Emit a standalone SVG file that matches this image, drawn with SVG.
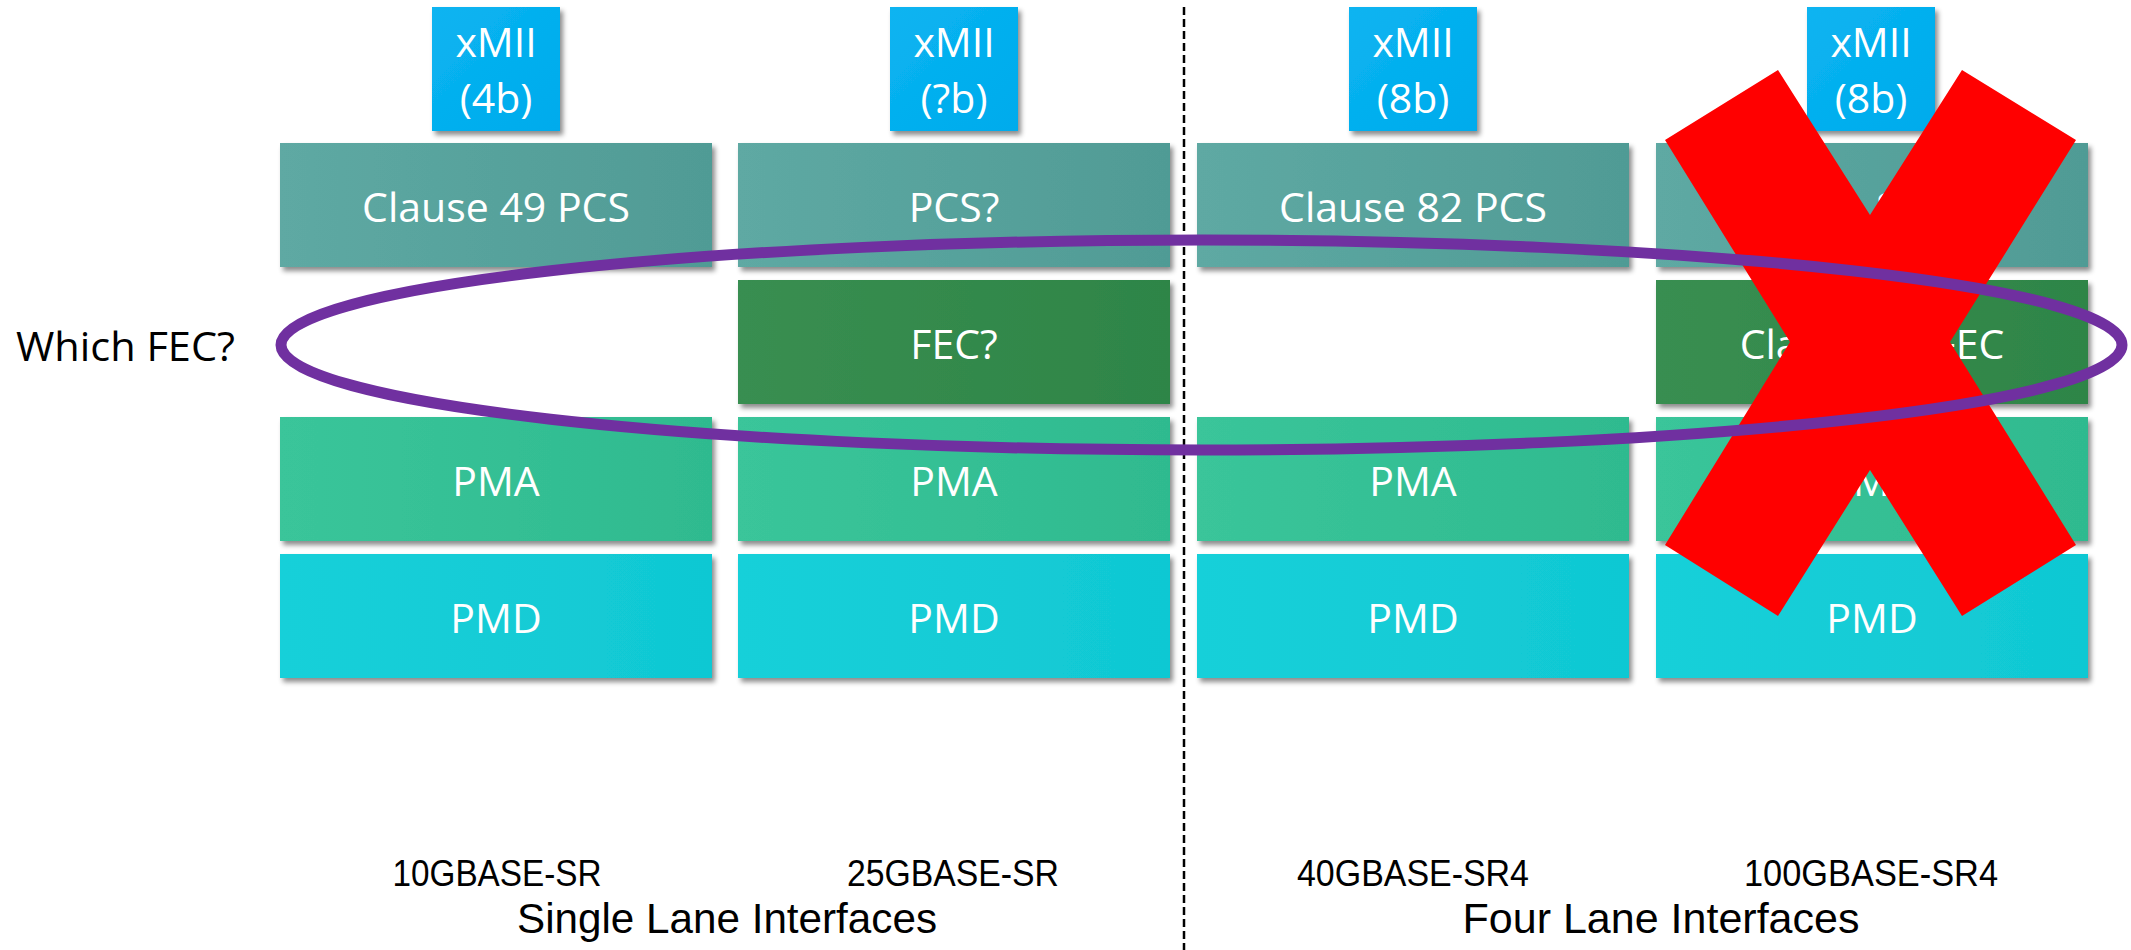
<svg xmlns="http://www.w3.org/2000/svg" width="2131" height="950" viewBox="0 0 2131 950">
  <style>
    .lbl { font-family: "Open Sans", "Liberation Sans", sans-serif; font-size: 41px; fill: #FFFFFF; text-anchor: middle; }
    .blk { font-family: "Liberation Sans", "Open Sans", sans-serif; fill: #000000; }
    .sub { font-size: 37px; text-anchor: middle; }
    .grp { font-size: 42px; text-anchor: middle; }
    .box { filter: url(#sh); }
  </style>
  <defs>
    <filter id="sh" x="-5%" y="-10%" width="112%" height="130%">
      <feDropShadow dx="3" dy="4" stdDeviation="2.5" flood-color="#000000" flood-opacity="0.45"/>
    </filter>
    <linearGradient id="gX" x1="0" y1="0" x2="1" y2="1">
      <stop offset="0" stop-color="#0AB4F1"/>
      <stop offset="1" stop-color="#00ABEC"/>
    </linearGradient>
    <linearGradient id="gPCS" x1="0" y1="0" x2="1" y2="0">
      <stop offset="0" stop-color="#5EA9A3"/>
      <stop offset="1" stop-color="#509B95"/>
    </linearGradient>
    <linearGradient id="gFEC" x1="0" y1="0" x2="1" y2="0">
      <stop offset="0" stop-color="#398E51"/>
      <stop offset="1" stop-color="#2E8547"/>
    </linearGradient>
    <linearGradient id="gPMA" x1="0" y1="0" x2="1" y2="0">
      <stop offset="0" stop-color="#3AC59A"/>
      <stop offset="1" stop-color="#2FBA8F"/>
    </linearGradient>
    <linearGradient id="gPMD" x1="0" y1="0" x2="1" y2="0">
      <stop offset="0" stop-color="#18D0D9"/>
      <stop offset="1" stop-color="#10C8D3"/>
    </linearGradient>
  </defs>

  <rect x="0" y="0" width="2131" height="950" fill="#FFFFFF"/>

  <!-- Column 1: 10GBASE-SR -->
  <g id="col1-xmii">
    <rect class="box" x="432" y="7" width="128" height="124" fill="url(#gX)"/>
    <text class="lbl" x="496" y="57">xMII</text>
    <text class="lbl" x="496" y="113">(4b)</text>
  </g>
  <g id="col1-pcs">
    <rect class="box" x="280" y="143" width="432" height="124" fill="url(#gPCS)"/>
    <text class="lbl" x="496" y="222">Clause 49 PCS</text>
  </g>
  <g id="col1-pma">
    <rect class="box" x="280" y="417" width="432" height="124" fill="url(#gPMA)"/>
    <text class="lbl" x="496" y="496">PMA</text>
  </g>
  <g id="col1-pmd">
    <rect class="box" x="280" y="554" width="432" height="124" fill="url(#gPMD)"/>
    <text class="lbl" x="496" y="633">PMD</text>
  </g>

  <!-- Column 2: 25GBASE-SR -->
  <g id="col2-xmii">
    <rect class="box" x="890" y="7" width="128" height="124" fill="url(#gX)"/>
    <text class="lbl" x="954" y="57">xMII</text>
    <text class="lbl" x="954" y="113">(?b)</text>
  </g>
  <g id="col2-pcs">
    <rect class="box" x="738" y="143" width="432" height="124" fill="url(#gPCS)"/>
    <text class="lbl" x="954" y="222">PCS?</text>
  </g>
  <g id="col2-fec">
    <rect class="box" x="738" y="280" width="432" height="124" fill="url(#gFEC)"/>
    <text class="lbl" x="954" y="359">FEC?</text>
  </g>
  <g id="col2-pma">
    <rect class="box" x="738" y="417" width="432" height="124" fill="url(#gPMA)"/>
    <text class="lbl" x="954" y="496">PMA</text>
  </g>
  <g id="col2-pmd">
    <rect class="box" x="738" y="554" width="432" height="124" fill="url(#gPMD)"/>
    <text class="lbl" x="954" y="633">PMD</text>
  </g>

  <!-- Column 3: 40GBASE-SR4 -->
  <g id="col3-xmii">
    <rect class="box" x="1349" y="7" width="128" height="124" fill="url(#gX)"/>
    <text class="lbl" x="1413" y="57">xMII</text>
    <text class="lbl" x="1413" y="113">(8b)</text>
  </g>
  <g id="col3-pcs">
    <rect class="box" x="1197" y="143" width="432" height="124" fill="url(#gPCS)"/>
    <text class="lbl" x="1413" y="222">Clause 82 PCS</text>
  </g>
  <g id="col3-pma">
    <rect class="box" x="1197" y="417" width="432" height="124" fill="url(#gPMA)"/>
    <text class="lbl" x="1413" y="496">PMA</text>
  </g>
  <g id="col3-pmd">
    <rect class="box" x="1197" y="554" width="432" height="124" fill="url(#gPMD)"/>
    <text class="lbl" x="1413" y="633">PMD</text>
  </g>

  <!-- Column 4: 100GBASE-SR4 -->
  <g id="col4-xmii">
    <rect class="box" x="1807" y="7" width="128" height="124" fill="url(#gX)"/>
    <text class="lbl" x="1871" y="57">xMII</text>
    <text class="lbl" x="1871" y="113">(8b)</text>
  </g>
  <g id="col4-pcs">
    <rect class="box" x="1656" y="143" width="432" height="124" fill="url(#gPCS)"/>
    <text class="lbl" x="1872" y="222">Clause 82 PCS</text>
  </g>
  <g id="col4-fec">
    <rect class="box" x="1656" y="280" width="432" height="124" fill="url(#gFEC)"/>
    <text class="lbl" x="1872" y="359">Clause 91 FEC</text>
  </g>
  <g id="col4-pma">
    <rect class="box" x="1656" y="417" width="432" height="124" fill="url(#gPMA)"/>
    <text class="lbl" x="1872" y="496">PMA</text>
  </g>
  <g id="col4-pmd">
    <rect class="box" x="1656" y="554" width="432" height="124" fill="url(#gPMD)"/>
    <text class="lbl" x="1872" y="633">PMD</text>
  </g>

  <!-- Divider -->
  <g id="divider">
    <line x1="1184" y1="7" x2="1184" y2="950" stroke="#000000" stroke-width="2.5" stroke-dasharray="8 4"/>
  </g>

  <!-- Labels -->
  <g id="labels">
    <text x="16" y="361" font-family="Open Sans, Liberation Sans, sans-serif" font-size="41" fill="#000000" textLength="219" lengthAdjust="spacingAndGlyphs">Which FEC?</text>
    <text class="blk sub" x="497" y="886" textLength="209" lengthAdjust="spacingAndGlyphs">10GBASE-SR</text>
    <text class="blk sub" x="953" y="886" textLength="212" lengthAdjust="spacingAndGlyphs">25GBASE-SR</text>
    <text class="blk sub" x="1413" y="886" textLength="232" lengthAdjust="spacingAndGlyphs">40GBASE-SR4</text>
    <text class="blk sub" x="1871" y="886" textLength="254" lengthAdjust="spacingAndGlyphs">100GBASE-SR4</text>
    <text class="blk grp" x="727" y="933" textLength="420" lengthAdjust="spacingAndGlyphs">Single Lane Interfaces</text>
    <text class="blk grp" x="1661" y="933" textLength="397" lengthAdjust="spacingAndGlyphs">Four Lane Interfaces</text>
  </g>

  <!-- Annotations -->
  <g id="connectors">
    <polygon id="red-x" fill="#FF0000" points="1665,140 1778,70 1870,215 1962,70 2076,140 1950,342 2076,545 1962,616 1870,470 1778,616 1665,545 1790,342"/>
    <ellipse id="fec-ellipse" cx="1201.5" cy="345" rx="920.5" ry="105" fill="none" stroke="#7030A0" stroke-width="11"/>
  </g>
</svg>
